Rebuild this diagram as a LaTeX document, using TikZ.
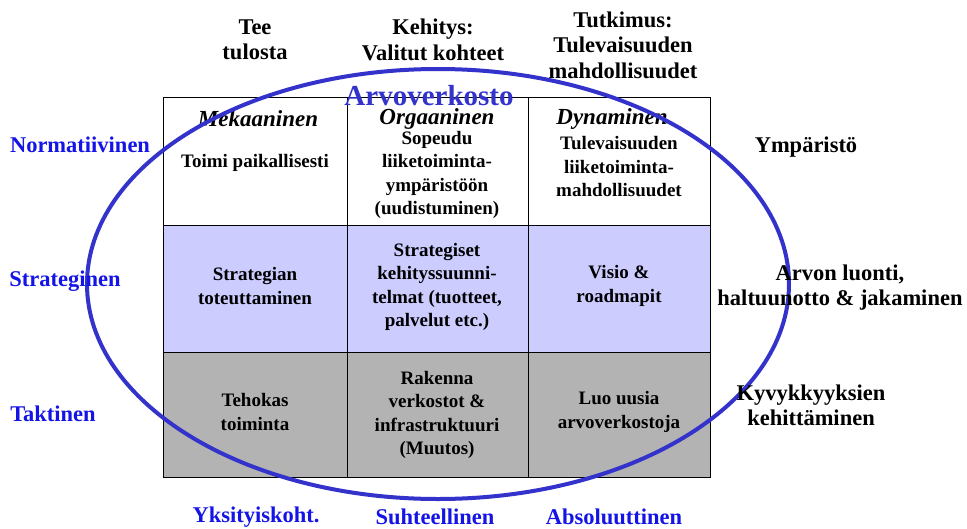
\documentclass[tikz,border=0pt]{standalone}
\usepackage{fontspec}
\setmainfont{Liberation Serif}
\usetikzlibrary{shapes.geometric}
\definecolor{lblue}{RGB}{204,204,255}
\definecolor{cgray}{RGB}{179,179,179}
\definecolor{eblue}{RGB}{51,51,204}
\definecolor{tblue}{RGB}{20,20,230}
\begin{document}
\begin{tikzpicture}[x=1pt,y=-1pt,
  cell/.style={draw=black,line width=1pt},
  ctext/.style={align=center,font=\fontsize{19}{23.5}\selectfont\bfseries,inner sep=0pt},
  chead/.style={font=\fontsize{23}{25}\selectfont\bfseries\itshape,inner sep=0pt},
  htext/.style={align=center,font=\fontsize{22.5}{25.5}\selectfont\bfseries,inner sep=0pt},
  side/.style={font=\fontsize{22.5}{25}\selectfont\bfseries,text=tblue,inner sep=0pt},
  rside/.style={align=center,font=\fontsize{22.5}{25}\selectfont\bfseries,inner sep=0pt}]
\useasboundingbox (0,0) rectangle (967,528);
% cells
\fill[white] (163,97) rectangle (710,225);
\fill[lblue] (163,225) rectangle (710,352);
\fill[cgray] (163,352) rectangle (710,477);
\draw[cell] (163,97) rectangle (710,477);
\draw[cell] (163,225) -- (710,225);
\draw[cell] (163,352) -- (710,352);
\draw[cell] (347,97) -- (347,477);
\draw[cell] (528,97) -- (528,477);
% column headers
\node[htext] (h1) at (255,40) {Tee\\tulosta};
\node[htext] (h2) at (433,40) {Kehitys:\\Valitut kohteet};
\node[htext] (h3) at (623,45) {Tutkimus:\\Tulevaisuuden\\mahdollisuudet};
% row 1
\node[chead] (m1) at (258,119) {Mekaaninen};
\node[chead] (m2) at (437,119) {Orgaaninen};
\node[chead] (m3) at (612,119) {Dynaminen};
\node[ctext] (c11) at (255,163) {Toimi paikallisesti};
\node[ctext] (c12) at (437,175) {Sopeudu\\liiketoiminta-\\ympäristöön\\(uudistuminen)};
\node[ctext] (c13) at (619,167) {Tulevaisuuden\\liiketoiminta-\\mahdollisuudet};
% row 2
\node[ctext] (c21) at (255,286) {Strategian\\toteuttaminen};
\node[ctext] (c22) at (437,287) {Strategiset\\kehityssuunni-\\telmat (tuotteet,\\palvelut etc.)};
\node[ctext] (c23) at (619,286) {Visio \&\\roadmapit};
% row 3
\node[ctext] (c31) at (255,412) {Tehokas\\toiminta};
\node[ctext] (c32) at (437,415) {Rakenna\\verkostot \&\\infrastruktuuri\\(Muutos)};
\node[ctext] (c33) at (619,412) {Luo uusia\\arvoverkostoja};
% ellipse
\node[draw=eblue,line width=4pt,ellipse,minimum width=702pt,minimum height=430pt,inner sep=0pt] (ell) at (438,284) {};
\node[font=\fontsize{29}{30}\selectfont\bfseries,text=eblue,inner sep=0pt] (av) at (429,96) {Arvoverkosto};
% side labels
\node[side] (s1) at (80,145) {Normatiivinen};
\node[side] (s2) at (65,281) {Strateginen};
\node[side] (s3) at (53,414) {Taktinen};
\node[rside] (r1) at (806,147) {Ympäristö};
\node[rside] (r2) at (840,288) {Arvon luonti,\\haltuunotto \& jakaminen};
\node[rside] (r3) at (811,405) {Kyvykkyyksien\\kehittäminen};
% bottom labels
\node[side] (b1) at (256,517) {Yksityiskoht.};
\node[side] (b2) at (435,517) {Suhteellinen};
\node[side] (b3) at (614,517) {Absoluuttinen};
\end{tikzpicture}
\end{document}
